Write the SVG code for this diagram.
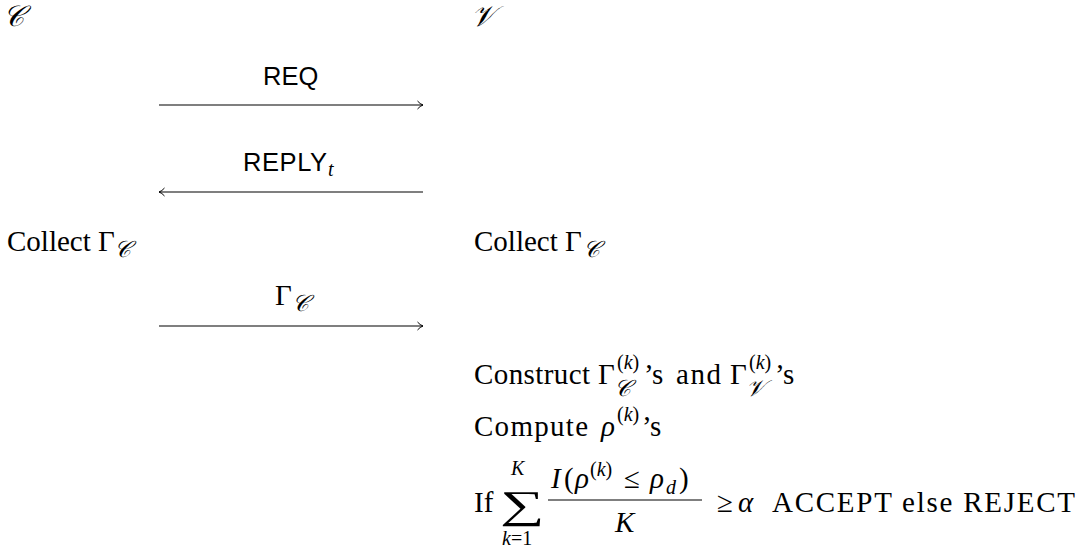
<svg xmlns="http://www.w3.org/2000/svg" width="1086" height="550" viewBox="0 0 1086 550">
<style>
.rm{font-family:"Liberation Serif","DejaVu Serif",serif;font-size:29px;fill:#000}
.it{font-family:"Liberation Serif","DejaVu Serif",serif;font-size:29px;font-style:italic;fill:#000}
.sc{font-family:"DejaVu Serif","Liberation Serif",serif;font-size:29px;font-style:italic;fill:#000}
.scs{font-family:"DejaVu Serif","Liberation Serif",serif;font-size:23px;font-style:italic;fill:#000}
.sm{font-family:"Liberation Serif","DejaVu Serif",serif;font-size:20px;fill:#000}
.smi{font-family:"Liberation Serif","DejaVu Serif",serif;font-size:20px;font-style:italic;fill:#000}
.sf{font-family:"Liberation Sans","DejaVu Sans",sans-serif;font-size:25.5px;fill:#000}
.conn{stroke:#000;stroke-width:1.2;fill:none}
</style>
<defs>
<marker id="hd" markerWidth="10" markerHeight="10" refX="7" refY="5" orient="auto" markerUnits="userSpaceOnUse">
<path d="M1.5,1 Q4,4 7,5 Q4,6 1.5,9" fill="none" stroke="#000" stroke-width="1"/>
</marker>
</defs>

<g id="party-C"><text class="sc" x="3" y="26">𝒞</text></g>
<g id="party-V"><text class="sc" x="471" y="26">𝒱</text></g>

<g id="connectors">
<line class="conn" x1="159" y1="105" x2="423" y2="105" marker-end="url(#hd)"/>
<line class="conn" x1="423" y1="192" x2="159" y2="192" marker-end="url(#hd)"/>
<line class="conn" x1="159" y1="326" x2="423" y2="326" marker-end="url(#hd)"/>
</g>

<g id="label-req"><text class="sf" x="263" y="85">REQ</text></g>
<g id="label-reply"><text class="sf" x="243" y="171" textLength="84" lengthAdjust="spacing">REPLY</text><text class="smi" x="328" y="176">t</text></g>

<g id="collect-C"><text class="rm" x="7" y="251">Collect Γ</text><text class="scs" x="114" y="257">𝒞</text></g>
<g id="collect-V"><text class="rm" x="474" y="251">Collect Γ</text><text class="scs" x="583" y="257">𝒞</text></g>

<g id="label-gamma"><text class="rm" x="275" y="305">Γ</text><text class="scs" x="292" y="311">𝒞</text></g>

<g id="verify">
<text class="rm" x="474" y="384" textLength="116" lengthAdjust="spacing">Construct</text>
<text class="rm" x="598" y="384">Γ</text>
<text class="sm" x="617" y="369">(<tspan class="smi">k</tspan>)</text>
<text class="scs" x="614" y="396">𝒞</text>
<text class="rm" x="644" y="384">’s</text>
<text class="rm" x="676" y="384" textLength="45" lengthAdjust="spacing">and</text>
<text class="rm" x="730" y="384">Γ</text>
<text class="sm" x="749" y="369">(<tspan class="smi">k</tspan>)</text>
<text class="scs" x="746" y="396">𝒱</text>
<text class="rm" x="775" y="384">’s</text>

<text class="rm" x="474" y="436" textLength="114" lengthAdjust="spacing">Compute</text>
<text class="it" x="601" y="436">ρ</text>
<text class="sm" x="617" y="421">(<tspan class="smi">k</tspan>)</text>
<text class="rm" x="642" y="436">’s</text>

<text class="rm" x="474" y="512">If</text>
<text class="rm" transform="translate(500,518) scale(1.6,1)" style="font-size:39px">∑</text>
<text class="smi" x="511" y="475">K</text>
<text class="sm" x="502" y="545"><tspan class="smi">k</tspan>=1</text>
<text class="it" x="551" y="488">I</text>
<text class="rm" x="564" y="488">(</text>
<text class="it" x="575" y="488">ρ</text>
<text class="sm" x="590" y="476">(<tspan class="smi">k</tspan>)</text>
<text class="rm" x="624" y="488">≤</text>
<text class="it" x="650" y="488">ρ</text>
<text class="smi" x="666" y="494">d</text>
<text class="rm" x="679" y="488">)</text>
<line x1="548" y1="500" x2="702" y2="500" stroke="#000" stroke-width="1.2"/>
<text class="it" x="615" y="532">K</text>
<text class="rm" x="717" y="512">≥</text>
<text class="it" x="738" y="512">α</text>
<text class="rm" x="772" y="512" textLength="303" lengthAdjust="spacing">ACCEPT else REJECT</text>
</g>
</svg>
